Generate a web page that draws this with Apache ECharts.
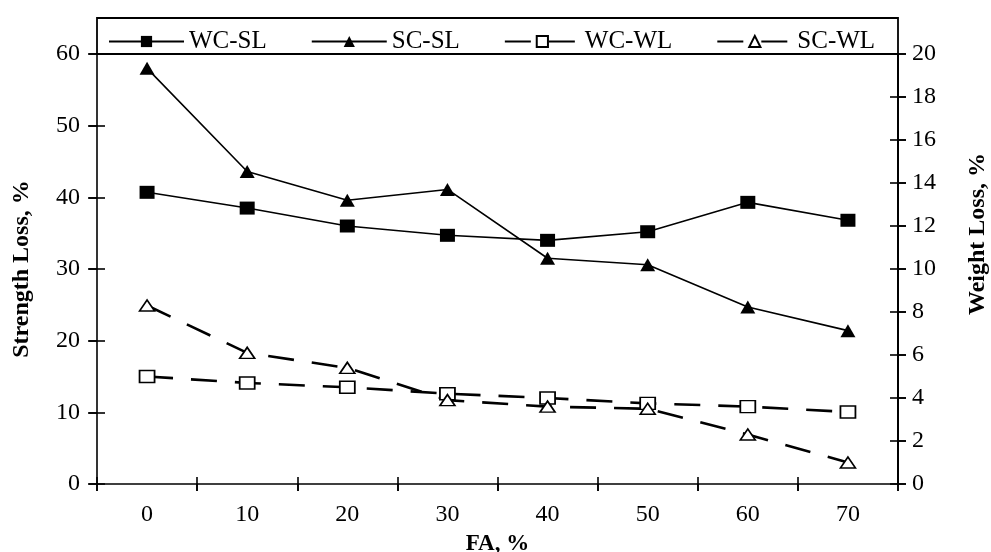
<!DOCTYPE html>
<html>
<head>
<meta charset="utf-8">
<script src="https://cdn.jsdelivr.net/npm/echarts@6/dist/echarts.min.js"></script>
<style>
html,body{margin:0;padding:0;background:#fff;}
#chart{width:991px;height:552px;}
</style>
</head>
<body>
<div id="chart"></div>
<script>
var categories = ['0', '10', '20', '30', '40', '50', '60', '70'];
var wcSL = [40.7, 38.5, 36.0, 34.7, 34.0, 35.2, 39.3, 36.8];
var scSL = [58.0, 43.6, 39.6, 41.1, 31.5, 30.6, 24.7, 21.4];
var wcWL = [5.0, 4.7, 4.5, 4.2, 4.0, 3.75, 3.6, 3.35];
var scWL = [8.3, 6.1, 5.4, 3.9, 3.6, 3.5, 2.3, 1.0];
var leftTicks = {min: 0, max: 60, interval: 10};
var rightTicks = {min: 0, max: 20, interval: 2};

var FONT = 'Liberation Serif';
var G = {left: 97, right: 93, top: 54, bottom: 68};
var W = 991, H = 552;
var chart = echarts.init(document.getElementById('chart'), null, {renderer: 'canvas'});

var lineBlack = {color: '#000', width: 1.6};
function tick(len) { return {show: true, inside: false, length: len, lineStyle: {color: '#000', width: 1.6}}; }

var option = {
  backgroundColor: '#fff',
  animation: false,
  grid: {left: G.left, right: G.right, top: G.top, bottom: G.bottom, containLabel: false, outerBoundsMode: 'none'},
  graphic: [{
    type: 'rect',
    shape: {x: G.left, y: 18, width: W - G.left - G.right, height: G.top - 18},
    style: {fill: 'none', stroke: '#000', lineWidth: 1.8},
    z: 100
  }],
  legend: {
    left: 103, top: 24,
    itemWidth: 75, itemHeight: 14, itemGap: 44,
    textStyle: {fontFamily: FONT, fontSize: 25, color: '#000'},
    data: ['WC-SL', 'SC-SL', 'WC-WL', 'SC-WL']
  },
  xAxis: [{
    type: 'category', data: categories, boundaryGap: true, position: 'bottom',
    axisLine: {show: true, lineStyle: lineBlack},
    axisTick: Object.assign(tick(7), {interval: 0, alignWithLabel: false}),
    axisLabel: {fontFamily: FONT, fontSize: 24, color: '#000', margin: 19},
    splitLine: {show: false},
    name: 'FA, %', nameLocation: 'middle', nameGap: 49,
    nameTextStyle: {fontFamily: FONT, fontSize: 23, fontWeight: 'bold', color: '#000'}
  }, {
    type: 'category', data: categories, boundaryGap: true, position: 'bottom', offset: -7,
    axisLine: {show: false},
    axisTick: Object.assign(tick(14), {interval: 0, alignWithLabel: false}),
    axisLabel: {show: false}, splitLine: {show: false}
  }],
  yAxis: [{
    type: 'value', position: 'left', min: leftTicks.min, max: leftTicks.max, interval: leftTicks.interval,
    axisLine: {show: true, lineStyle: lineBlack},
    axisTick: tick(9),
    axisLabel: {fontFamily: FONT, fontSize: 24, color: '#000', margin: 17},
    splitLine: {show: false},
    name: 'Strength Loss, %', nameLocation: 'middle', nameGap: 63,
    nameTextStyle: {fontFamily: FONT, fontSize: 24, fontWeight: 'bold', color: '#000'}
  }, {
    type: 'value', position: 'right', min: rightTicks.min, max: rightTicks.max, interval: rightTicks.interval,
    axisLine: {show: true, lineStyle: {color: '#000', width: 2}},
    axisTick: tick(8),
    axisLabel: {fontFamily: FONT, fontSize: 24, color: '#000', margin: 14},
    splitLine: {show: false},
    name: 'Weight Loss, %', nameLocation: 'middle', nameGap: 68,
    nameTextStyle: {fontFamily: FONT, fontSize: 24, fontWeight: 'bold', color: '#000', padding: [0, 0, 0, 70]}
  }, {
    type: 'value', position: 'left', offset: -8, min: leftTicks.min, max: leftTicks.max, interval: leftTicks.interval,
    axisLine: {show: false}, axisTick: tick(16), axisLabel: {show: false}, splitLine: {show: false}
  }, {
    type: 'value', position: 'right', offset: -8, min: rightTicks.min, max: rightTicks.max, interval: rightTicks.interval,
    axisLine: {show: false}, axisTick: tick(16), axisLabel: {show: false}, splitLine: {show: false}
  }],
  series: [{
    name: 'WC-SL', type: 'line', yAxisIndex: 0, data: wcSL,
    symbol: 'rect', symbolSize: [15, 13],
    lineStyle: {color: '#000', width: 1.6},
    itemStyle: {color: '#000', borderColor: '#000', borderWidth: 0}
  }, {
    name: 'SC-SL', type: 'line', yAxisIndex: 0, data: scSL,
    symbol: 'triangle', symbolSize: [15, 13],
    lineStyle: {color: '#000', width: 1.6},
    itemStyle: {color: '#000', borderColor: '#000', borderWidth: 0}
  }, {
    name: 'WC-WL', type: 'line', yAxisIndex: 1, data: wcWL,
    symbol: 'rect', symbolSize: [15, 12],
    lineStyle: {color: '#000', width: 2.6, type: [26, 18]},
    itemStyle: {color: '#fff', borderColor: '#000', borderWidth: 1.6}
  }, {
    name: 'SC-WL', type: 'line', yAxisIndex: 1, data: scWL,
    symbol: 'triangle', symbolSize: [15, 11],
    lineStyle: {color: '#000', width: 2.6, type: [26, 18]},
    itemStyle: {color: '#fff', borderColor: '#000', borderWidth: 1.6}
  }]
};
chart.setOption(option);
</script>
</body>
</html>
